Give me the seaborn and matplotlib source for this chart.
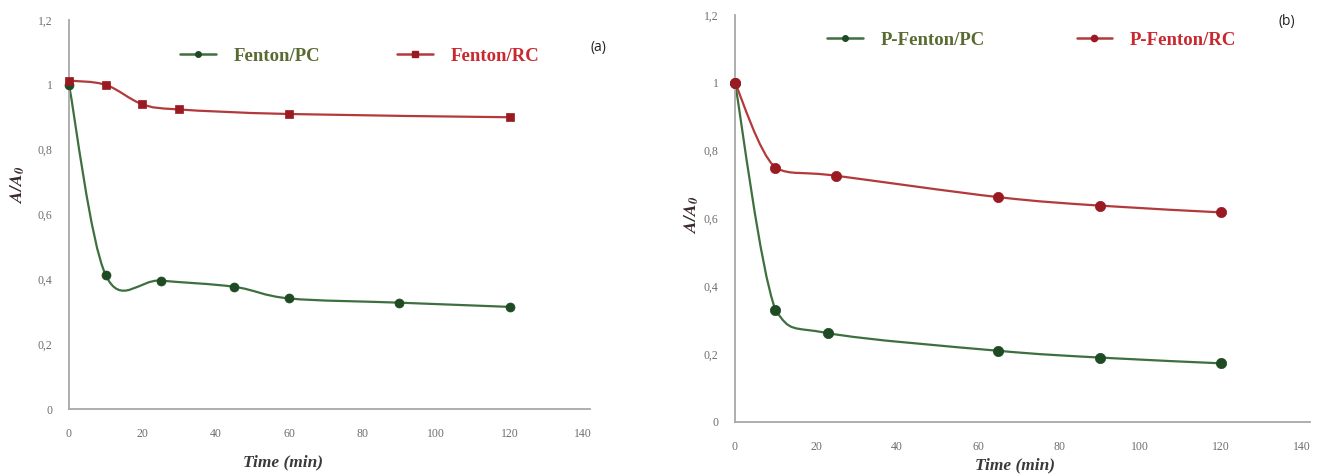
import numpy as np
import pandas as pd
import matplotlib
matplotlib.use("Agg")
import matplotlib.pyplot as plt
from matplotlib.path import Path
from matplotlib.patches import PathPatch
from matplotlib.lines import Line2D
import seaborn as sns

# ---- data ----
time_a_pc = [0, 10, 25, 45, 60, 90, 120]
val_a_pc = [1.0, 0.413, 0.396, 0.377, 0.341, 0.328, 0.315]
time_a_rc = [0, 10, 20, 30, 60, 120]
val_a_rc = [1.013, 1.0, 0.94, 0.924, 0.91, 0.90]

time_b_pc = [0, 10, 23, 65, 90, 120]
val_b_pc = [1.0, 0.33, 0.262, 0.21, 0.19, 0.173]
time_b_rc = [0, 10, 25, 65, 90, 120]
val_b_rc = [1.0, 0.749, 0.726, 0.663, 0.638, 0.618]

labels_a = ["Fenton/PC", "Fenton/RC"]
labels_b = ["P-Fenton/PC", "P-Fenton/RC"]
x_ticks = [0, 20, 40, 60, 80, 100, 120, 140]
y_ticks = [0, 0.2, 0.4, 0.6, 0.8, 1.0, 1.2]
y_ticklabels = ["0", "0,2", "0,4", "0,6", "0,8", "1", "1,2"]

GREEN_LINE = "#3d6f3f"
GREEN_MARK = "#1e4a24"
RED_LINE = "#b23a3c"
RED_MARK = "#9a1a22"
GREEN_TXT = "#5a6b32"
RED_TXT = "#c8282e"

sns.set_theme(style="white")
plt.rcParams["font.family"] = ["Liberation Serif", "DejaVu Serif"]
plt.rcParams["mathtext.fontset"] = "stix"

W, H = 1331, 476
fig = plt.figure(figsize=(W / 100, H / 100), dpi=100)
ax_a = fig.add_axes([69 / W, 67 / H, 514 * 142 / 140 / W, 389 / H])
ax_b = fig.add_axes([735 / W, 54 / H, 567 * 142 / 140 / W, 407 / H])


def smooth_path(ax, xs, ys, color, monotone=False, lw=1.6):
    """Excel-like smoothed line drawn as a cubic Bezier path through the data."""
    pts = np.column_stack([xs, ys]).astype(float)
    pos = ax.get_position()
    sx = pos.width * W / (ax.get_xlim()[1] - ax.get_xlim()[0])
    sy = pos.height * H / (ax.get_ylim()[1] - ax.get_ylim()[0])
    scale = np.array([sx, sy])
    p = pts * scale
    n = len(p)
    verts = [tuple(pts[0])]
    codes = [Path.MOVETO]
    for i in range(n - 1):
        p0 = p[i - 1] if i > 0 else p[i]
        p1 = p[i]
        p2 = p[i + 1]
        p3 = p[i + 2] if i + 2 < n else p[i + 1]
        c1 = p1 + (p2 - p0) / 6.0
        c2 = p2 - (p3 - p1) / 6.0
        if monotone:
            lo, hi = min(p1[1], p2[1]), max(p1[1], p2[1])
            c1[1] = np.clip(c1[1], lo, hi)
            c2[1] = np.clip(c2[1], lo, hi)
        for c in (c1, c2, p2):
            verts.append(tuple(c / scale))
            codes.append(Path.CURVE4)
    patch = PathPatch(Path(verts, codes), facecolor="none", edgecolor=color,
                      lw=lw, zorder=2, capstyle="round", joinstyle="round")
    ax.add_patch(patch)


def style_axis(ax):
    ax.set_xlim(0, 142)
    ax.set_ylim(0, 1.2)
    ax.set_xticks(x_ticks)
    ax.set_xticklabels([str(t) for t in x_ticks])
    ax.set_yticks(y_ticks)
    ax.set_yticklabels(y_ticklabels)
    for s in ["top", "right"]:
        ax.spines[s].set_visible(False)
    for s in ["left", "bottom"]:
        ax.spines[s].set_color("#a8a8a8")
        ax.spines[s].set_linewidth(1.3)
    ax.tick_params(axis="x", length=0, labelsize=8.5, colors="#6e6e6e", pad=14)
    ax.tick_params(axis="y", length=0, labelsize=8.5, colors="#6e6e6e", pad=12)
    ax.grid(False)


def panel(ax, t_pc, v_pc, t_rc, v_rc, rc_marker, ms_pc, ms_rc, monotone):
    style_axis(ax)
    smooth_path(ax, t_pc, v_pc, GREEN_LINE, monotone=monotone)
    smooth_path(ax, t_rc, v_rc, RED_LINE, monotone=monotone)
    df_pc = pd.DataFrame({"t": t_pc, "v": v_pc})
    df_rc = pd.DataFrame({"t": t_rc, "v": v_rc})
    sns.scatterplot(data=df_pc, x="t", y="v", ax=ax, marker="o", s=ms_pc,
                    color=GREEN_MARK, edgecolor=GREEN_MARK, linewidth=0.5,
                    zorder=3, clip_on=False, legend=False)
    sns.scatterplot(data=df_rc, x="t", y="v", ax=ax, marker=rc_marker, s=ms_rc,
                    color=RED_MARK, edgecolor=RED_MARK, linewidth=0.5,
                    zorder=3, clip_on=False, legend=False)
    ax.set_xlabel("")
    ax.set_ylabel("")


panel(ax_a, time_a_pc, val_a_pc, time_a_rc, val_a_rc, "s", 42, 34, False)
panel(ax_b, time_b_pc, val_b_pc, time_b_rc, val_b_rc, "o", 55, 55, True)


def make_legend(ax, labels, rc_marker, anchor, colspace):
    h = [Line2D([], [], color=GREEN_LINE, lw=1.8, marker="o", ms=4,
                markerfacecolor=GREEN_MARK, markeredgecolor=GREEN_MARK),
         Line2D([], [], color=RED_LINE, lw=1.8, marker=rc_marker, ms=4.5,
                markerfacecolor=RED_MARK, markeredgecolor=RED_MARK)]
    leg = ax.legend(h, labels, ncol=2, frameon=False, loc="center left",
                    bbox_to_anchor=anchor, handlelength=1.9, handletextpad=0.95,
                    columnspacing=colspace, borderpad=0, borderaxespad=0,
                    prop={"family": ["Liberation Serif"], "weight": "bold", "size": 13.5})
    leg.get_texts()[0].set_color(GREEN_TXT)
    leg.get_texts()[1].set_color(RED_TXT)
    return leg


pa = ax_a.get_position()
pb = ax_b.get_position()
make_legend(ax_a, labels_a, "s", ((180 / W - pa.x0) / pa.width, ((H - 56) / H - pa.y0) / pa.height), 4.1)
make_legend(ax_b, labels_b, "o", ((827 / W - pb.x0) / pb.width, ((H - 40) / H - pb.y0) / pb.height), 4.9)

# axis labels
for xc, yx, xl_y, yl_y in [(283, 18, 462, 185), (1015, 692, 465, 215)]:
    fig.text(xc / W, 1 - xl_y / H, "Time (min)", ha="center", va="center",
             fontsize=12.5, fontweight="bold", fontstyle="italic", color="#3a3a3a",
             family=["Liberation Serif"])
    fig.text(yx / W, 1 - yl_y / H, r"$\mathbfit{A/A_0}$", ha="center", va="center",
             rotation=90, fontsize=13, color="#3a2a2a")

fig.text(598 / W, 1 - 48 / H, "(a)", ha="center", va="center", fontsize=10,
         family=["Open Sans"], color="#222222")
fig.text(1287 / W, 1 - 22 / H, "(b)", ha="center", va="center", fontsize=10,
         family=["Open Sans"], color="#222222")

fig.savefig("out.png", dpi=100, facecolor="white")
